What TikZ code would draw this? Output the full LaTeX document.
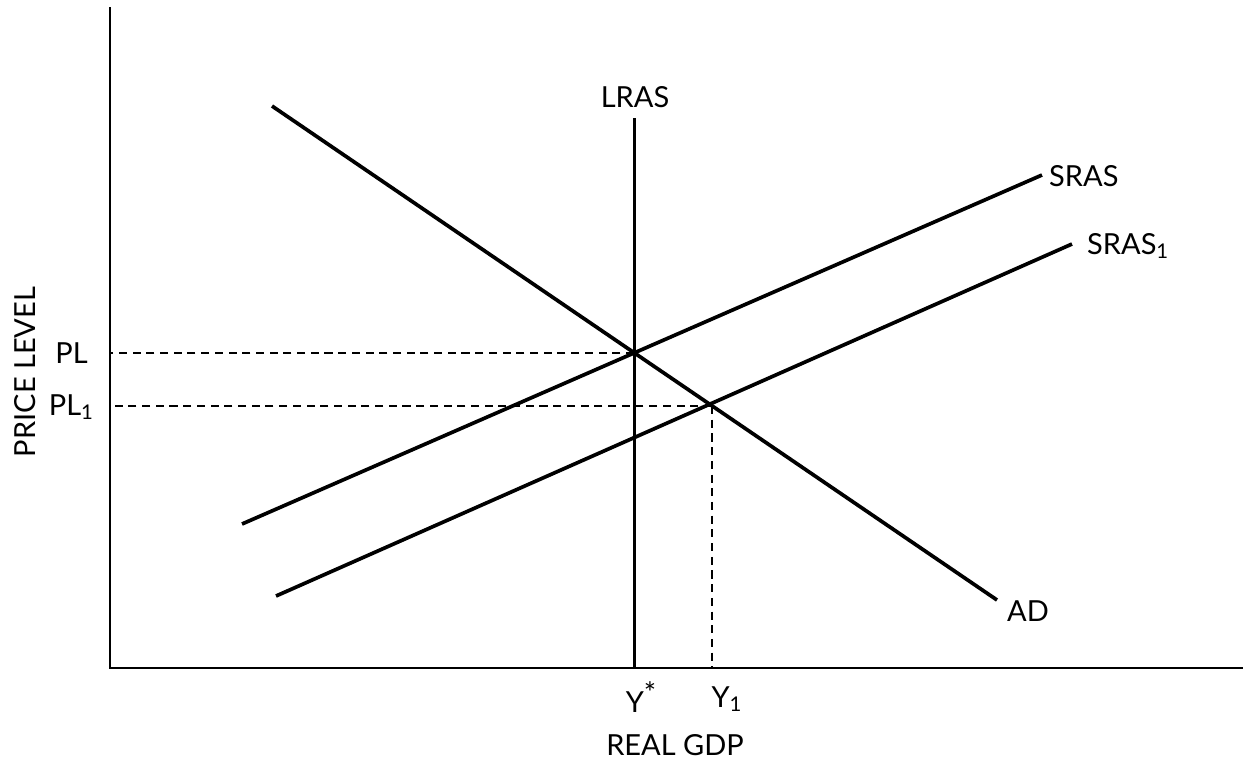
\documentclass[tikz,border=0pt]{standalone}
\usepackage{fontspec}
\setmainfont{Lato}
\usepackage{tikz}
\usetikzlibrary{calc}

\begin{document}
\begin{tikzpicture}[x=0.02cm, y=-0.02cm, font=\fontsize{16.5}{18}\selectfont]
    \tikzset{
        curve/.style={line width=2.1pt, line cap=butt},
        axis/.style={line width=1.4pt},
        guide/.style={line width=0.65pt, dash pattern=on 4.6pt off 3.2pt},
    }
    \useasboundingbox (0,0) rectangle (1243,765);
    % Axes
    \coordinate (O) at (110,668);
    \coordinate (Ytop) at (110,7);
    \coordinate (Xend) at (1243,668);
    \draw[axis] (Ytop) -- (O) -- (Xend);
    % Long-run supply
    \coordinate (LRtop) at (634,118);
    \coordinate (LRbot) at (634,668);
    \draw[curve, line width=1.7pt] (LRbot) -- (LRtop);
    \node (lras) at (635,97) {LRAS};
    % Demand
    \coordinate (ADa) at (272,106);
    \coordinate (ADb) at (997,600);
    \draw[curve] (ADa) -- (ADb);
    \node[anchor=west] (ad) at (1001,611) {AD};
    % Short-run supply curves
    \coordinate (SRa) at (242,524);
    \coordinate (SRb) at (1042,175);
    \draw[curve] (SRa) -- (SRb);
    \node[anchor=west] (sras) at (1043,176) {SRAS};
    \coordinate (SRa1) at (276,596);
    \coordinate (SRb1) at (1072,244);
    \draw[curve] (SRa1) -- (SRb1);
    \node[anchor=west] (sras1) at (1081,246) {SRAS\textsubscript{1}};
    % Equilibria
    \coordinate (E) at (634,353);
    \coordinate (E1) at (712,406);
    \draw[guide] (E) -- (O |- E);
    \draw[guide] (E1) -- (O |- E1);
    \draw[guide] (E1) -- (E1 |- O);
    % Axis labels
    \node[anchor=east] (pl) at (94,353) {PL};
    \node[anchor=east] (pl1) at (100,407) {PL\textsubscript{1}};
    \node (ystar) at (641,697) {Y\raisebox{0.3em}{*}};
    \node (y1) at (727,699) {Y\textsubscript{1}};
    \node (gdp) at (675,745) {REAL GDP};
    \node[rotate=90] (price) at (25,372) {PRICE LEVEL};
\end{tikzpicture}
\end{document}
